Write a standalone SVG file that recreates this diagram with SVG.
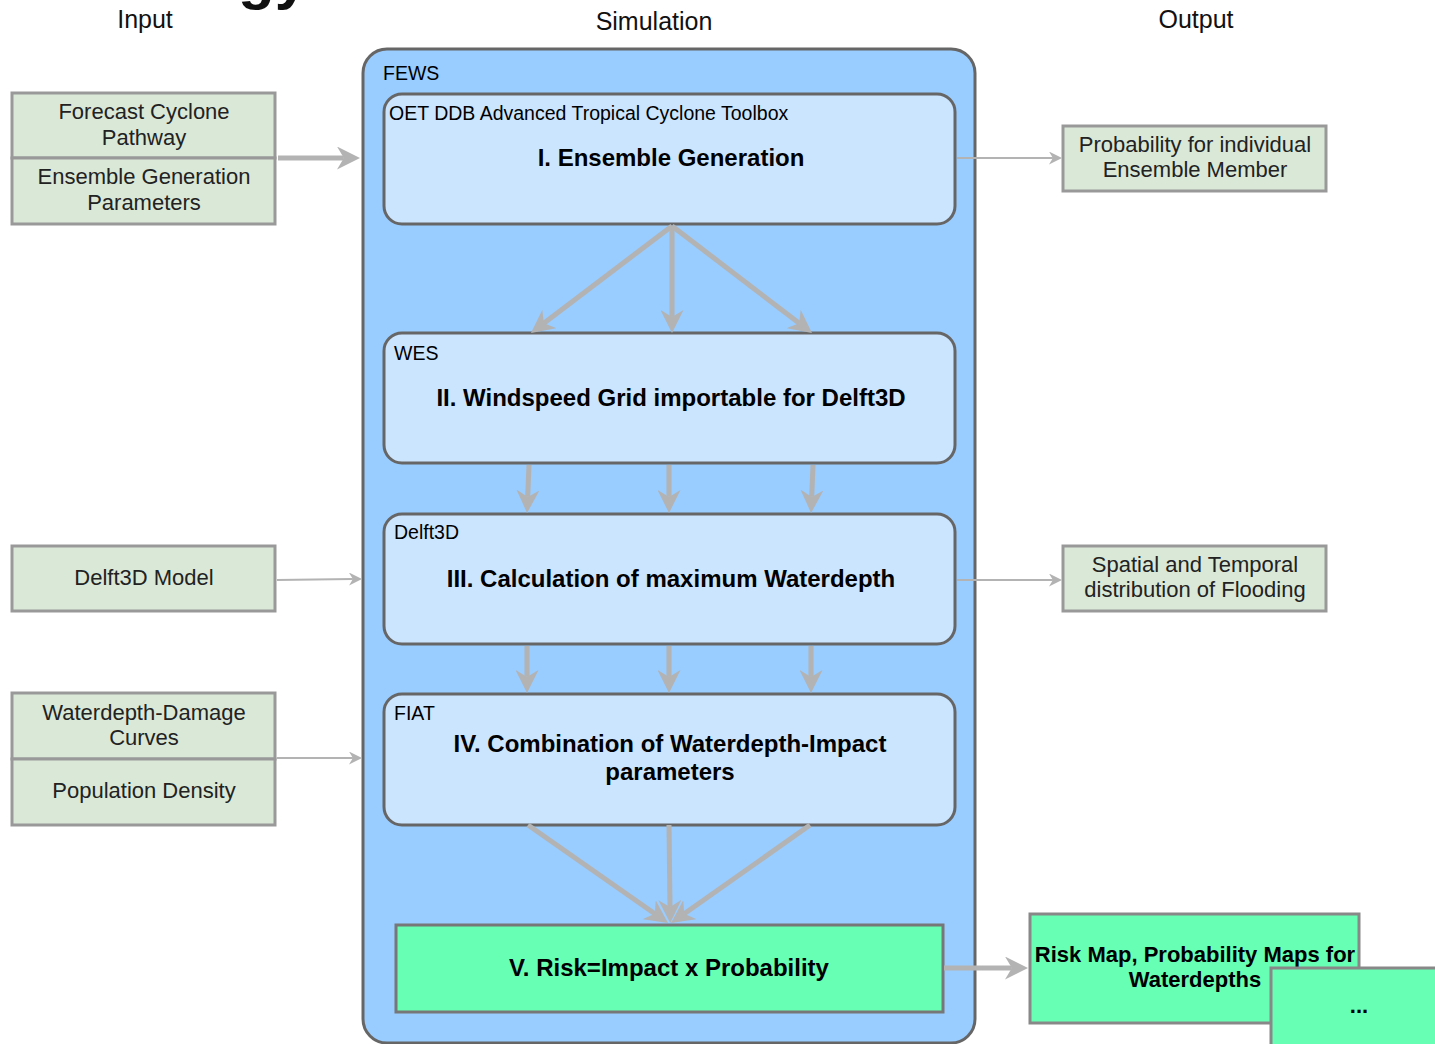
<svg xmlns="http://www.w3.org/2000/svg" width="1435" height="1044" viewBox="0 0 1435 1044">
<defs>
<marker id="big" viewBox="0 0 10 10" markerUnits="userSpaceOnUse" markerWidth="23" markerHeight="23" refX="3" refY="5" orient="auto"><path d="M0,0 L10,5 L0,10 L3,5 z" fill="#b3b3b3"/></marker>
<marker id="small" viewBox="0 0 10 10" markerUnits="userSpaceOnUse" markerWidth="13" markerHeight="13" refX="3" refY="5" orient="auto"><path d="M0,0 L10,5 L0,10 L3,5 z" fill="#b3b3b3"/></marker>
</defs>
<style>
text{font-family:"Liberation Sans",Arial,sans-serif;}
.hdr{font-size:25px;fill:#111;}
.io{fill:#dae8d8;stroke:#999;stroke-width:3;}
.iot{font-size:22px;fill:#222;text-anchor:middle;}
.stage{fill:#cce5ff;stroke:#666;stroke-width:3;}
.lbl{font-size:19.5px;fill:#000;}
.title{font-size:24px;font-weight:bold;fill:#000;text-anchor:middle;}
.risk{fill:#66ffb3;stroke:#777;stroke-width:3;}
.rt{font-size:22px;font-weight:bold;fill:#000;text-anchor:middle;}
.thick{stroke:#b3b3b3;stroke-width:5;fill:none;marker-end:url(#big);}
.thin{stroke:#b3b3b3;stroke-width:2;fill:none;marker-end:url(#small);}
</style>
<rect width="1435" height="1044" fill="#fff"/>
<text x="238" y="-2" style="font-size:60px;font-weight:bold;fill:#111;">gy</text>
<text class="hdr" x="145" y="28" text-anchor="middle">Input</text>
<text class="hdr" x="654" y="30" text-anchor="middle">Simulation</text>
<text class="hdr" x="1196" y="28" text-anchor="middle">Output</text>

<g id="fews">
<rect x="363" y="49" width="612" height="994" rx="24" fill="#99ccff" stroke="#666" stroke-width="3"/>
<text class="lbl" x="383" y="80">FEWS</text>
</g>

<g id="input-forecast">
<rect class="io" x="12" y="93" width="263" height="65"/>
<text class="iot" x="144" y="119">Forecast Cyclone</text>
<text class="iot" x="144" y="145">Pathway</text>
</g>
<g id="input-ensemble-params">
<rect class="io" x="12" y="158" width="263" height="66"/>
<text class="iot" x="144" y="184">Ensemble Generation</text>
<text class="iot" x="144" y="210">Parameters</text>
</g>
<g id="input-delft3d-model">
<rect class="io" x="12" y="546" width="263" height="65"/>
<text class="iot" x="144" y="585">Delft3D Model</text>
</g>
<g id="input-damage-curves">
<rect class="io" x="12" y="693" width="263" height="66"/>
<text class="iot" x="144" y="720">Waterdepth-Damage</text>
<text class="iot" x="144" y="745">Curves</text>
</g>
<g id="input-population">
<rect class="io" x="12" y="759" width="263" height="66"/>
<text class="iot" x="144" y="798">Population Density</text>
</g>

<g id="stage1">
<rect class="stage" x="384" y="94" width="571" height="130" rx="18"/>
<text class="lbl" x="389" y="120">OET DDB Advanced Tropical Cyclone Toolbox</text>
<text class="title" x="671" y="166">I. Ensemble Generation</text>
</g>
<g id="stage2">
<rect class="stage" x="384" y="333" width="571" height="130" rx="18"/>
<text class="lbl" x="394" y="360">WES</text>
<text class="title" x="671" y="406">II. Windspeed Grid importable for Delft3D</text>
</g>
<g id="stage3">
<rect class="stage" x="384" y="514" width="571" height="130" rx="18"/>
<text class="lbl" x="394" y="539">Delft3D</text>
<text class="title" x="671" y="587">III. Calculation of maximum Waterdepth</text>
</g>
<g id="stage4">
<rect class="stage" x="384" y="694" width="571" height="131" rx="18"/>
<text class="lbl" x="394" y="720">FIAT</text>
<text class="title" x="670" y="752">IV. Combination of Waterdepth-Impact</text>
<text class="title" x="670" y="780">parameters</text>
</g>
<g id="stage5">
<rect class="risk" x="396" y="925" width="547" height="87"/>
<text class="title" x="669" y="976">V. Risk=Impact x Probability</text>
</g>

<g id="output-probability">
<rect class="io" x="1063" y="126" width="263" height="65"/>
<text class="iot" x="1195" y="152">Probability for individual</text>
<text class="iot" x="1195" y="177">Ensemble Member</text>
</g>
<g id="output-flooding">
<rect class="io" x="1063" y="546" width="263" height="65"/>
<text class="iot" x="1195" y="572">Spatial and Temporal</text>
<text class="iot" x="1195" y="597">distribution of Flooding</text>
</g>
<g id="output-riskmap">
<rect x="1030" y="914" width="329" height="109" fill="#66ffb3" stroke="#888" stroke-width="3"/>
<text class="rt" x="1195" y="962">Risk Map, Probability Maps for</text>
<text class="rt" x="1195" y="987">Waterdepths</text>
</g>
<g id="output-more">
<rect x="1271" y="968" width="200" height="100" fill="#66ffb3" stroke="#888" stroke-width="3"/>
<text class="rt" x="1359" y="1013">...</text>
</g>

<g id="connectors">
<line class="thick" x1="278" y1="158" x2="343.9" y2="158"/>
<line class="thin" x1="277" y1="580" x2="352.9" y2="579"/>
<line class="thin" x1="277" y1="758" x2="352.9" y2="758"/>
<line class="thin" x1="957" y1="158" x2="1052.9" y2="158"/>
<line class="thin" x1="957" y1="580" x2="1052.9" y2="580"/>
<line class="thick" x1="672" y1="226" x2="543.8" y2="323.2"/>
<line class="thick" x1="672" y1="226" x2="672" y2="316.9"/>
<line class="thick" x1="672" y1="226" x2="799.2" y2="323.2"/>
<line class="thick" x1="529" y1="465" x2="527.7" y2="496.9"/>
<line class="thick" x1="669" y1="465" x2="669" y2="496.9"/>
<line class="thick" x1="813" y1="465" x2="811.7" y2="496.9"/>
<line class="thick" x1="527" y1="646" x2="527" y2="676.9"/>
<line class="thick" x1="669" y1="646" x2="669" y2="676.9"/>
<line class="thick" x1="811" y1="646" x2="811" y2="676.9"/>
<line class="thick" x1="528" y1="825" x2="654.8" y2="913.8"/>
<line class="thick" x1="669" y1="825" x2="670" y2="906.9"/>
<line class="thick" x1="810" y1="825" x2="684.2" y2="913.7"/>
<line class="thick" x1="944" y1="968" x2="1011.9" y2="968"/>
</g>
</svg>
